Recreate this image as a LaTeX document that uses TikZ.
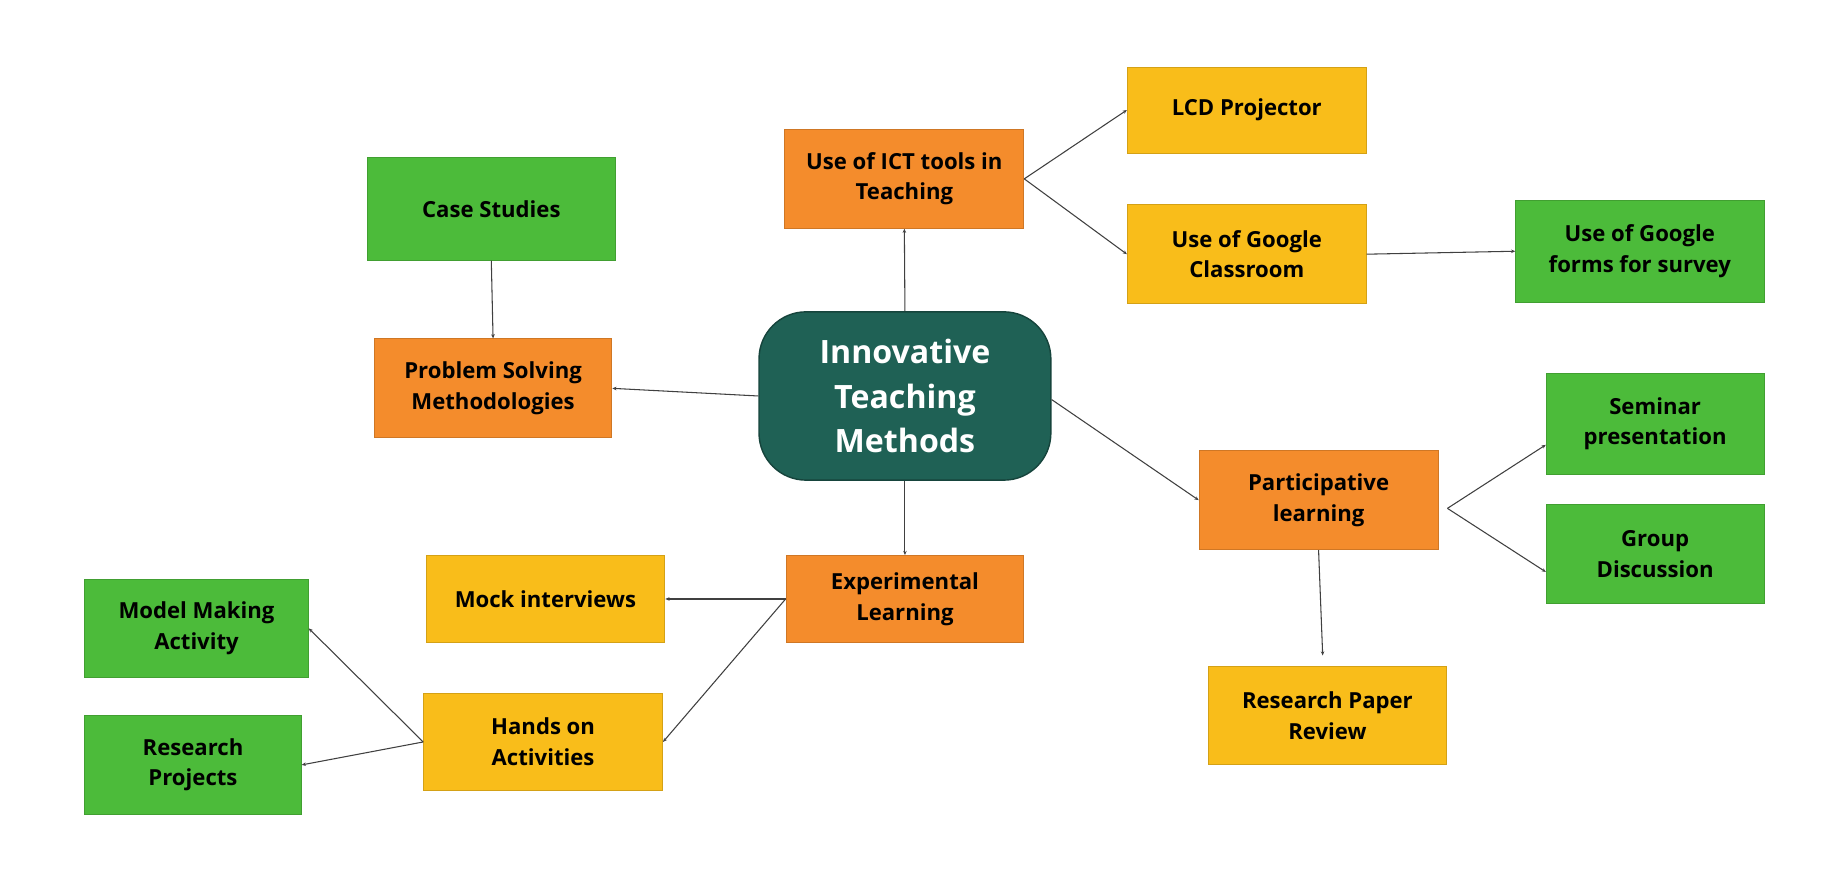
\documentclass[tikz,border=0pt]{standalone}
\usepackage{fontspec}
\setmainfont{Open Sans}
\usetikzlibrary{arrows.meta}
\definecolor{orng}{HTML}{F48C2C}
\definecolor{yelw}{HTML}{F9BD1A}
\definecolor{grn}{HTML}{4CBB3A}
\definecolor{teal}{HTML}{1F6155}
\definecolor{lnk}{HTML}{404040}
\tikzset{
  box/.style={rectangle, inner sep=0pt, align=center, text=black,
    font=\fontsize{18.8}{26}\selectfont\bfseries, line width=0.8pt},
  obox/.style={box, fill=orng, draw=orng!85!black},
  ybox/.style={box, fill=yelw, draw=yelw!85!black},
  gbox/.style={box, fill=grn, draw=grn!85!black},
  hub/.style={rectangle, rounded corners=40pt, inner sep=0pt, align=center,
    fill=teal, draw=teal!70!black, line width=1.2pt, text=white,
    font=\fontsize{27.3}{38}\selectfont\bfseries,
    minimum width=248pt, minimum height=143pt},
  link/.style={draw=lnk, line width=0.9pt, -{Stealth[length=3.5pt,width=3pt]}}
}
\begin{document}
\begin{tikzpicture}[x=1pt,y=-1pt]
\useasboundingbox[fill=white] (0,0) rectangle (1567,741);
\node[hub] (c) at (769,336.5) {Innovative\\Teaching\\Methods};
\node[obox, minimum width=203pt, minimum height=84pt] (ict) at (768.5,152) {Use of ICT tools in\\Teaching};
\node[ybox, minimum width=203pt, minimum height=73pt] (lcd) at (1059.5,93.5) {LCD Projector};
\node[ybox, minimum width=203pt, minimum height=84pt] (gcl) at (1059.5,216) {Use of Google\\Classroom};
\node[gbox, minimum width=211pt, minimum height=87pt] (gfm) at (1393.5,213.5) {Use of Google\\forms for survey};
\node[gbox, minimum width=211pt, minimum height=87pt] (case) at (417.5,177.5) {Case Studies};
\node[obox, minimum width=202pt, minimum height=84pt] (ps) at (419,330) {Problem Solving\\Methodologies};
\node[obox, minimum width=203pt, minimum height=84pt] (pl) at (1120.5,425) {Participative\\learning};
\node[gbox, minimum width=185pt, minimum height=86pt] (sem) at (1406.5,360) {Seminar\\presentation};
\node[gbox, minimum width=185pt, minimum height=84pt] (gd) at (1406.5,471) {Group\\Discussion};
\node[ybox, minimum width=202pt, minimum height=84pt] (rpr) at (1128,608) {Research Paper\\Review};
\node[obox, minimum width=202pt, minimum height=74pt] (el) at (769,509) {Experimental\\Learning};
\node[ybox, minimum width=203pt, minimum height=74pt] (mock) at (463.5,509) {Mock interviews};
\node[ybox, minimum width=203pt, minimum height=83pt] (hands) at (461.5,630.5) {Hands on\\Activities};
\node[gbox, minimum width=190pt, minimum height=84pt] (mma) at (167,534) {Model Making\\Activity};
\node[gbox, minimum width=184pt, minimum height=84pt] (rp) at (164,650) {Research\\Projects};
\coordinate (plr) at (1230,432);
\coordinate (rprt) at (1124,557);
\draw[link] (c.north) -- (ict.south);
\draw[link] (ict.east) -- (lcd.west);
\draw[link] (ict.east) -- (gcl.west);
\draw[link] (gcl.east) -- (gfm.west);
\draw[link] (case.south) -- (ps.north);
\draw[link] (c.west) -- (ps.east);
\draw[link] ([yshift=-3pt]c.east) -- (pl.west);
\draw[link] (plr) -- ([yshift=-18pt]sem.west);
\draw[link] (plr) -- ([yshift=-15pt]gd.west);
\draw[link] (pl.south) -- (rprt);
\draw[link] (c.south) -- (el.north);
\draw[link] (el.west) -- (mock.east);
\draw[link] (el.west) -- (hands.east);
\draw[link] (hands.west) -- (mma.east);
\draw[link] (hands.west) -- (rp.east);
\end{tikzpicture}
\end{document}
